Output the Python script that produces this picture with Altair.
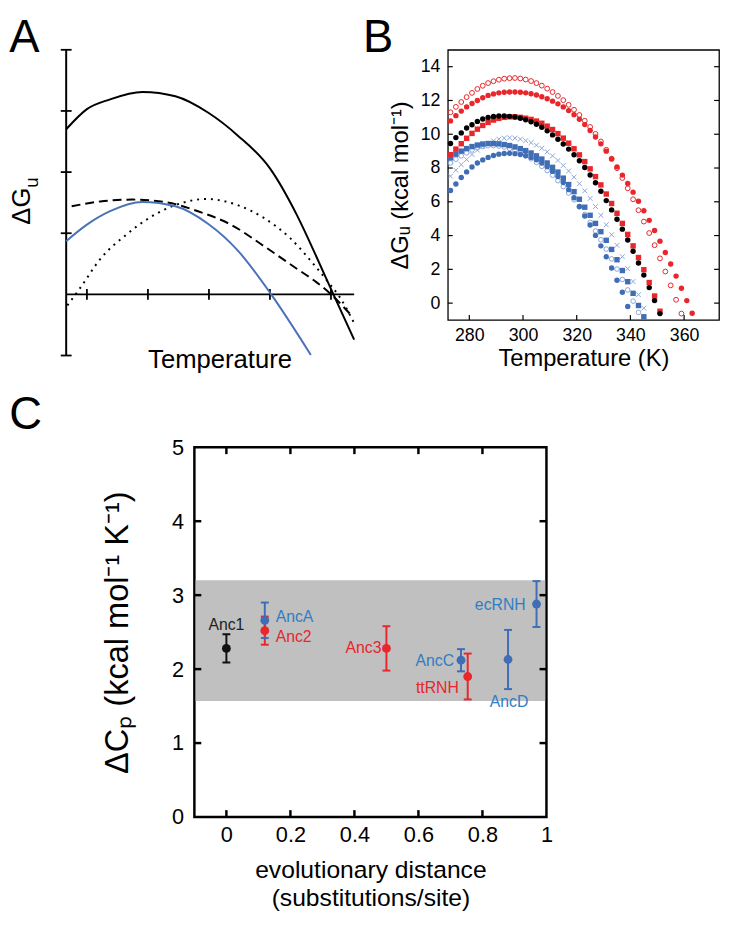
import altair as alt
import pandas as pd

FONT = "Liberation Sans"

# ---------------- Panel A: schematic stability curves ----------------
A_X_RANGE = [0.66, 5.38]
A_Y_RANGE = [-1, 4]
A_XTICKS = [1, 2, 3, 4, 5]
A_YTICKS = [-1, 1, 2, 3, 4]
A_SOLID_X = [0.66, 1.0, 1.38, 1.91, 2.45, 2.99, 3.47, 4.0, 4.44, 4.76, 5.04, 5.38]
A_SOLID_Y = [2.70, 3.03, 3.19, 3.31, 3.24, 2.97, 2.60, 2.06, 1.30, 0.62, 0.0, -0.74]
A_BLUE_X = [0.66, 1.0, 1.38, 1.91, 2.45, 2.99, 3.47, 4.02, 4.67]
A_BLUE_Y = [0.87, 1.14, 1.36, 1.51, 1.44, 1.15, 0.72, 0.0, -0.99]
A_DASH_X = [0.75, 1.22, 1.75, 2.28, 2.82, 3.36, 3.9, 4.44, 4.76, 4.98, 5.33]
A_DASH_Y = [1.44, 1.52, 1.55, 1.51, 1.36, 1.14, 0.79, 0.42, 0.20, 0.02, -0.34]
A_DOT_X = [0.68, 0.9, 1.22, 1.65, 2.02, 2.45, 2.96, 3.47, 3.9, 4.33, 4.71, 4.98, 5.14, 5.38]
A_DOT_Y = [-0.18, 0.12, 0.58, 0.98, 1.25, 1.46, 1.56, 1.46, 1.25, 0.92, 0.50, 0.17, -0.04, -0.47]

# ---------------- Panel B: measured stability curves ----------------
B_XDOMAIN = [272, 373]
B_YDOMAIN = [-1, 15]
B_XTICKS = [280, 300, 320, 340, 360]
B_YTICKS = [0, 2, 4, 6, 8, 10, 12, 14]
TEMPS = [273, 275, 277, 279, 281, 283, 285, 287, 289, 291, 293, 295, 297, 299,
         301, 303, 305, 307, 309, 311, 313, 315, 317, 319, 321, 323, 325, 327,
         329, 331, 333, 335, 337, 339, 341, 343, 345, 347, 349, 351, 353, 355,
         357, 359, 361, 363]
RED_OPEN = [11.30, 11.62, 11.91, 12.20, 12.45, 12.68, 12.87, 13.03, 13.14, 13.23, 13.29,
            13.32, 13.33, 13.30, 13.24, 13.15, 13.03, 12.88, 12.70, 12.50, 12.27, 12.02,
            11.74, 11.45, 11.14, 10.80, 10.43, 10.02, 9.57, 9.08, 8.55, 7.99, 7.41, 6.80,
            6.15, 5.50, 4.83, 4.15, 3.43, 2.65, 1.87, 1.05, 0.20, -0.62]
RED_FILLED = [10.79, 11.10, 11.37, 11.62, 11.82, 12.00, 12.16, 12.30, 12.39, 12.45, 12.49,
              12.50, 12.50, 12.49, 12.45, 12.40, 12.32, 12.22, 12.10, 11.96, 11.80, 11.62,
              11.40, 11.16, 10.89, 10.57, 10.22, 9.84, 9.43, 9.00, 8.54, 8.07, 7.58, 7.08,
              6.57, 6.03, 5.47, 4.90, 4.30, 3.67, 3.00, 2.32, 1.60, 0.88, 0.15, -0.60]
BLACK = [9.45, 9.80, 10.08, 10.37, 10.56, 10.76, 10.90, 10.99, 11.05, 11.08, 11.08, 11.06,
         11.02, 10.95, 10.86, 10.74, 10.59, 10.41, 10.20, 9.96, 9.70, 9.42, 9.12, 8.79,
         8.43, 8.03, 7.59, 7.13, 6.62, 6.07, 5.52, 4.97, 4.38, 3.74, 3.07, 2.38, 1.66,
         0.92, 0.15, -0.62]
RED_SQ = [8.79, 9.12, 9.44, 9.76, 10.05, 10.30, 10.52, 10.70, 10.84, 10.94, 11.00, 11.03,
          11.03, 11.00, 10.95, 10.88, 10.78, 10.65, 10.48, 10.28, 10.04, 9.77, 9.47, 9.14,
          8.78, 8.38, 7.95, 7.49, 7.00, 6.46, 5.90, 5.32, 4.72, 4.07, 3.39, 2.70, 1.98,
          1.22, 0.42, -0.48]
BLUE_SQ = [8.60, 8.82, 9.00, 9.15, 9.27, 9.36, 9.42, 9.45, 9.45, 9.43, 9.39, 9.33, 9.25,
           9.15, 9.03, 8.89, 8.72, 8.53, 8.30, 8.04, 7.76, 7.40, 7.02, 6.60, 6.15, 5.68,
           5.20, 4.72, 4.23, 3.72, 3.18, 2.57, 1.93, 1.27, 0.58, -0.14, -0.81]
LB_OPEN = [8.30, 8.52, 8.72, 8.90, 9.07, 9.20, 9.28, 9.32, 9.33, 9.30, 9.24, 9.15, 9.03,
           8.90, 8.73, 8.55, 8.33, 8.10, 7.85, 7.57, 7.25, 6.90, 6.52, 6.12, 5.70, 5.25,
           4.78, 4.27, 3.75, 3.20, 2.62, 2.02, 1.40, 0.78, 0.12, -0.55]
LB_X = [7.52, 7.87, 8.20, 8.50, 8.80, 9.06, 9.28, 9.47, 9.61, 9.71, 9.77, 9.79, 9.77,
        9.71, 9.62, 9.50, 9.35, 9.17, 8.96, 8.72, 8.45, 8.15, 7.82, 7.46, 7.07, 6.65,
        6.20, 5.72, 5.20, 4.64, 4.05, 3.42, 2.75, 2.04, 1.28, 0.50, -0.30]
BLUE_FILLED = [6.67, 7.05, 7.44, 7.77, 8.06, 8.30, 8.48, 8.63, 8.74, 8.82, 8.86, 8.87,
               8.85, 8.80, 8.73, 8.63, 8.49, 8.30, 8.08, 7.80, 7.50, 7.14, 6.72, 6.24,
               5.72, 5.16, 4.63, 4.01, 3.39, 2.75, 2.08, 1.35, 0.64, -0.20]

# ---------------- Panel C: heat capacity vs distance ----------------
C_NAMES = ["Anc1", "AncA", "Anc2", "Anc3", "AncC", "ttRNH", "AncD", "ecRNH"]
C_DIST = [0.0, 0.12, 0.12, 0.50, 0.733, 0.754, 0.88, 0.969]
C_DCP = [2.28, 2.66, 2.52, 2.28, 2.12, 1.90, 2.13, 2.88]
C_ERR = [0.19, 0.24, 0.19, 0.30, 0.15, 0.31, 0.40, 0.31]
C_GROUP = ["black", "blue", "red", "red", "blue", "red", "blue", "blue"]
C_BAND = [1.57, 3.20]
C_XDOMAIN = [-0.1, 1.0]
C_YDOMAIN = [0, 5]
C_XTICKS = [0, 0.2, 0.4, 0.6, 0.8, 1.0]
C_YTICKS = [0, 1, 2, 3, 4, 5]

# ---------------- styles ----------------
RED = "#e8262b"
BLUE = "#3f6db6"
LBLUE = "#8aa6d8"
C_BLUE_TXT = "#2e7ec4"
XPATH = "M-1,-1L1,1M-1,1L1,-1"

W_A, H_A = 292, 310
W_B, H_B = 275, 274
W_C, H_C = 357, 375
W_GAP = 33

ONE = alt.Data(values=[{"k": 0}])


def label(txt, x, y, size, align="left", baseline="top", angle=0, color="black"):
    kw = dict(text=txt, fontSize=size, font=FONT, align=align, baseline=baseline, color=color)
    if angle:
        kw["angle"] = angle
    return alt.Chart(ONE).mark_text(**kw).encode(x=alt.value(x), y=alt.value(y))


# ================= Panel A =================
ax_s = alt.Scale(domain=A_X_RANGE, nice=False, zero=False)
ay_s = alt.Scale(domain=A_Y_RANGE, nice=False, zero=False)
AX = alt.X("x:Q", scale=ax_s, axis=None)
AY = alt.Y("y:Q", scale=ay_s, axis=None)

a_layers = []
a_layers.append(
    alt.Chart(pd.DataFrame({"x": [A_X_RANGE[0]], "y": [A_Y_RANGE[0]], "y2": [A_Y_RANGE[1]]}))
    .mark_rule(color="black", strokeWidth=2)
    .encode(x=AX, y=AY, y2="y2:Q")
)
a_layers.append(
    alt.Chart(pd.DataFrame({"x": [A_X_RANGE[0]], "x2": [A_X_RANGE[1]], "y": [0]}))
    .mark_rule(color="black", strokeWidth=2)
    .encode(x=AX, x2="x2:Q", y=AY)
)
a_layers.append(
    alt.Chart(pd.DataFrame({"x": A_XTICKS, "y": [0] * len(A_XTICKS)}))
    .mark_tick(orient="vertical", size=11, thickness=1.8, color="black", opacity=1)
    .encode(x=AX, y=AY)
)
a_layers.append(
    alt.Chart(pd.DataFrame({"x": [A_X_RANGE[0]] * len(A_YTICKS), "y": A_YTICKS}))
    .mark_tick(orient="horizontal", size=11, thickness=1.8, color="black", opacity=1)
    .encode(x=AX, y=AY)
)


def a_curve(xs, ys, color, dash=None):
    kw = dict(color=color, strokeWidth=2, interpolate="monotone")
    if dash:
        kw["strokeDash"] = dash
    return alt.Chart(pd.DataFrame({"x": xs, "y": ys})).mark_line(**kw).encode(x=AX, y=AY)


a_layers.append(a_curve(A_DOT_X, A_DOT_Y, "black", [2, 5]))
a_layers.append(a_curve(A_DASH_X, A_DASH_Y, "black", [9, 5]))
a_layers.append(a_curve(A_BLUE_X, A_BLUE_Y, "#4a72b8"))
a_layers.append(a_curve(A_SOLID_X, A_SOLID_Y, "black"))
a_layers.append(label("A", -57.7, -34, 46))
a_layers.append(label("ΔG", -36.5, 158.5, 26, align="center", baseline="alphabetic", angle=270))
a_layers.append(label("u", -28.2, 134.5, 19, align="center", baseline="alphabetic", angle=270))
a_layers.append(label("Temperature", 156, 314.5, 26, align="center", baseline="middle"))

chart_a = alt.layer(*a_layers).properties(width=W_A, height=H_A)

# ================= Panel B =================
BX = alt.X("T:Q", scale=alt.Scale(domain=B_XDOMAIN, nice=False, zero=False),
           axis=alt.Axis(values=B_XTICKS, title="Temperature (K)", labelFontSize=18,
                         titleFontSize=24, labelPadding=7, titlePadding=2))
BY = alt.Y("dG:Q", scale=alt.Scale(domain=B_YDOMAIN, nice=False, zero=False),
           axis=alt.Axis(values=B_YTICKS, title="ΔGᵤ (kcal mol⁻¹)", labelFontSize=18,
                         titleFontSize=24, labelPadding=8, titlePadding=8))

b_layers = []
b_layers.append(alt.Chart(pd.DataFrame({"dG": B_YTICKS})).mark_rule(color="black", strokeWidth=1.2)
                .encode(y=BY, x=alt.value(0), x2=alt.value(5)))
b_layers.append(alt.Chart(pd.DataFrame({"dG": B_YTICKS})).mark_rule(color="black", strokeWidth=1.2)
                .encode(y=BY, x=alt.value(W_B - 5), x2=alt.value(W_B)))
b_layers.append(alt.Chart(pd.DataFrame({"T": B_XTICKS})).mark_rule(color="black", strokeWidth=1.2)
                .encode(x=BX, y=alt.value(H_B - 5), y2=alt.value(H_B)))

B_SERIES = [
    (LB_OPEN, dict(shape="circle", filled=False, color=LBLUE, size=22, strokeWidth=1)),
    (LB_X, dict(shape=XPATH, filled=False, color=LBLUE, size=24, strokeWidth=1)),
    (BLUE_FILLED, dict(shape="circle", filled=True, color=BLUE, size=30)),
    (BLUE_SQ, dict(shape="square", filled=True, color=BLUE, size=30)),
    (RED_SQ, dict(shape="square", filled=True, color=RED, size=30)),
    (BLACK, dict(shape="circle", filled=True, color="black", size=30)),
    (RED_FILLED, dict(shape="circle", filled=True, color=RED, size=30)),
    (RED_OPEN, dict(shape="circle", filled=False, color=RED, size=24, strokeWidth=1)),
]
for vals, st in B_SERIES:
    df = pd.DataFrame({"T": TEMPS[:len(vals)], "dG": vals})
    b_layers.append(alt.Chart(df).mark_point(opacity=1, **st).encode(x=BX, y=BY))

b_layers.append(label("B", -86, -34, 46))
chart_b = alt.layer(*b_layers).properties(
    width=W_B, height=H_B, view=alt.ViewBackground(stroke="black", strokeWidth=1.3))

# ================= Panel C =================
c_df = pd.DataFrame({"name": C_NAMES, "dist": C_DIST, "dcp": C_DCP, "err": C_ERR, "grp": C_GROUP})
c_xs = alt.Scale(domain=C_XDOMAIN, nice=False, zero=False)
c_ys = alt.Scale(domain=C_YDOMAIN, nice=False, zero=False)
c_xaxis = alt.Axis(values=C_XTICKS, format="~g", title=["evolutionary distance", "(substitutions/site)"],
                   labelFontSize=22, titleFontSize=25, labelPadding=8, titlePadding=12, titleLineHeight=29)
c_yaxis = alt.Axis(values=C_YTICKS, title="ΔCₚ (kcal mol⁻¹ K⁻¹)", labelFontSize=22,
                   titleFontSize=33, labelPadding=11, titlePadding=38)
CX = alt.X("dist:Q", scale=c_xs, axis=c_xaxis)
CY = alt.Y("dcp:Q", scale=c_ys, axis=c_yaxis)
CCOL = alt.Color("grp:N", scale=alt.Scale(domain=["black", "blue", "red"], range=["#111111", BLUE, RED]),
                 legend=None)

c_layers = []
c_layers.append(alt.Chart(pd.DataFrame({"dcp": [C_BAND[0]], "dcp2": [C_BAND[1]]}))
                .mark_rect(color="#c0c0c0")
                .encode(y=CY, y2="dcp2:Q", x=alt.value(1.3), x2=alt.value(W_C - 1.3)))
for spec in [dict(x=alt.value(0), x2=alt.value(7)), dict(x=alt.value(W_C - 7), x2=alt.value(W_C))]:
    c_layers.append(alt.Chart(pd.DataFrame({"dcp": C_YTICKS[1:-1]})).mark_rule(color="black", strokeWidth=2.5)
                    .encode(y=CY, **spec))
for spec in [dict(y=alt.value(H_C - 7), y2=alt.value(H_C)), dict(y=alt.value(0), y2=alt.value(7))]:
    c_layers.append(alt.Chart(pd.DataFrame({"dist": C_XTICKS[:-1]})).mark_rule(color="black", strokeWidth=2.5)
                    .encode(x=CX, **spec))

c_base = alt.Chart(c_df).transform_calculate(lo="datum.dcp - datum.err", hi="datum.dcp + datum.err")
c_layers.append(c_base.mark_rule(strokeWidth=2).encode(
    x=CX, y=alt.Y("lo:Q", scale=c_ys, axis=c_yaxis), y2="hi:Q", color=CCOL))
for f in ["lo", "hi"]:
    c_layers.append(c_base.mark_tick(orient="horizontal", size=8, thickness=2, opacity=1).encode(
        x=CX, y=alt.Y(f + ":Q", scale=c_ys, axis=c_yaxis), color=CCOL))
c_layers.append(alt.Chart(c_df).mark_circle(size=80, opacity=1).encode(x=CX, y=CY, color=CCOL))

C_LABEL_STYLE = {
    "Anc1": dict(align="center", dx=0, dy=-24, color="#222222"),
    "AncA": dict(align="left", dx=11, dy=-3, color=C_BLUE_TXT),
    "Anc2": dict(align="left", dx=11, dy=6, color=RED),
    "Anc3": dict(align="right", dx=-5, dy=0, color=RED),
    "AncC": dict(align="right", dx=-7, dy=1, color=C_BLUE_TXT),
    "ttRNH": dict(align="right", dx=-9, dy=12, color=RED),
    "AncD": dict(align="center", dx=1, dy=43, color=C_BLUE_TXT),
    "ecRNH": dict(align="right", dx=-11, dy=1, color=C_BLUE_TXT),
}
for nm, st in C_LABEL_STYLE.items():
    c_layers.append(alt.Chart(c_df).transform_filter(alt.datum.name == nm)
                    .mark_text(fontSize=16, font=FONT, baseline="middle", **st)
                    .encode(x=CX, y=CY, text="name:N"))

chart_c = alt.layer(*c_layers).properties(
    width=W_C, height=H_C, view=alt.ViewBackground(stroke="black", strokeWidth=2.5))

# spacer cell carrying the panel letter C, so that C's plot sits right of A's origin
spacer_c = label("C", -57.7, -54.1, 46).properties(width=W_GAP, height=10)

row1 = alt.hconcat(chart_a, chart_b, spacing=3)
row2 = alt.hconcat(spacer_c, chart_c, spacing=0)
chart = (
    alt.vconcat(row1, row2, spacing=19)
    .properties(padding=0)
    .configure(font=FONT)
    .configure_view(stroke="transparent")
    .configure_axis(labelFont=FONT, titleFont=FONT, labelColor="black", titleColor="black",
                    titleFontWeight="normal", grid=False, ticks=False, tickSize=0, domain=False,
                    labelFlush=False, labelOverlap=False)
)
chart.save("out.html", embed_options={"renderer": "svg", "actions": False})
